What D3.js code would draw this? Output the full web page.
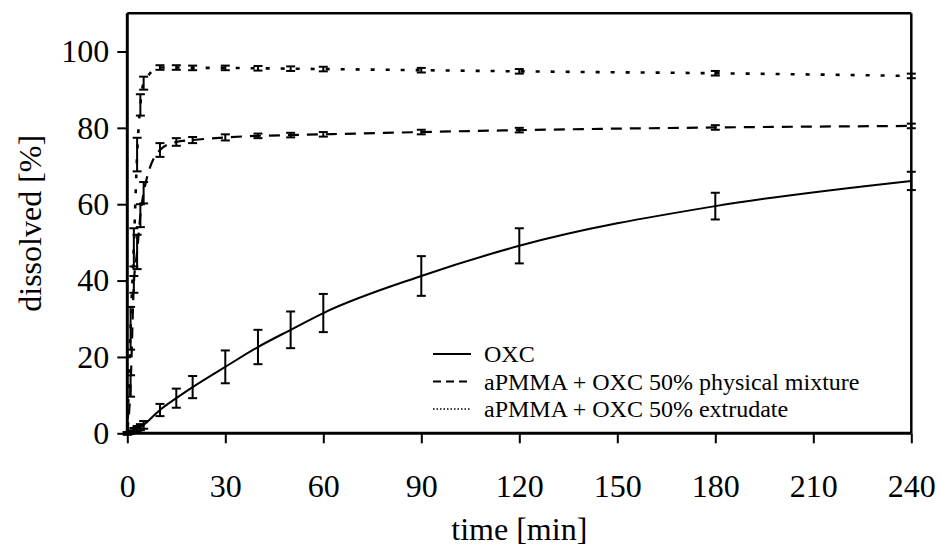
<!DOCTYPE html>
<html>
<head>
<meta charset="utf-8">
<script src="https://cdn.jsdelivr.net/npm/d3@7"></script>
<style>
  html, body { margin: 0; padding: 0; background: #fff; }
  svg { display: block; }
  text { font-family: "Liberation Serif", "Times New Roman", serif; fill: #000; }
</style>
</head>
<body>
<svg id="chart" width="939" height="548"></svg>
<script>
// ---- data ----
const times = [0, 1, 2, 3, 4, 5, 10, 15, 20, 30, 40, 50, 60, 90, 120, 180, 240];
const oxc    = [0, 0.3, 0.8, 1.2, 1.6, 2.2, 6.1, 9.2, 12.1, 17.4, 22.6, 27.1, 31.5, 41.2, 49.1, 59.5, 66.1];
const oxcErr = [0.3, 0.5, 0.6, 0.7, 0.8, 1.0, 1.6, 2.5, 2.9, 4.3, 4.5, 4.8, 5.0, 5.2, 4.6, 3.5, 2.4];
const mix    = [0, 12.4, 39, 47.5, 57, 63, 74.2, 76.3, 76.8, 77.5, 77.9, 78.1, 78.3, 78.9, 79.4, 80.1, 80.5];
const mixErr = [0.3, 2.8, 2.2, 4.5, 3.0, 2.8, 1.8, 1.0, 0.8, 0.8, 0.6, 0.6, 0.6, 0.6, 0.6, 0.6, 0.6];
const ext    = [0, 27.5, 48.7, 73, 86, 91.7, 95.8, 95.8, 95.7, 95.7, 95.6, 95.5, 95.4, 95.1, 94.8, 94.3, 93.6];
const extErr = [0.3, 5.6, 5.0, 4.4, 2.8, 1.7, 0.6, 0.6, 0.6, 0.6, 0.6, 0.6, 0.6, 0.6, 0.6, 0.6, 0.6];
const xTicks = [0, 30, 60, 90, 120, 150, 180, 210, 240];
const yTicks = [0, 20, 40, 60, 80, 100];
const seriesNames = ["OXC", "aPMMA + OXC 50% physical mixture", "aPMMA + OXC 50% extrudate"];
const xTitle = "time [min]";
const yTitle = "dissolved [%]";

// ---- layout ----
const W = 939, H = 548;
const m = { left: 127.3, right: 27.7, top: 13.3, bottom: 114.7 };
const iw = W - m.left - m.right, ih = H - m.top - m.bottom;

const svg = d3.select("#chart");
svg.append("rect").attr("width", W).attr("height", H).attr("fill", "#fff");
const g = svg.append("g").attr("transform", `translate(${m.left},${m.top})`);

const x = d3.scaleLinear().domain([0, 240]).range([0, iw]);
const y = d3.scaleLinear().domain([0, 110]).range([ih, 0]);

// frame (top & right)
g.append("line").attr("x1", 0).attr("x2", iw).attr("y1", 0).attr("y2", 0)
  .attr("stroke", "#000").attr("stroke-width", 2.5);
g.append("line").attr("x1", iw).attr("x2", iw).attr("y1", 0).attr("y2", ih)
  .attr("stroke", "#000").attr("stroke-width", 2.5);

// axes
const xAxis = g.append("g").attr("transform", `translate(0,${ih})`)
  .call(d3.axisBottom(x).tickValues(xTicks).tickSize(10).tickPadding(31).tickFormat(d3.format("d")));
const yAxis = g.append("g")
  .call(d3.axisLeft(y).tickValues(yTicks).tickSize(10).tickPadding(8).tickFormat(d3.format("d")));
[xAxis, yAxis].forEach(a => {
  a.select(".domain").attr("stroke", "#000").attr("stroke-width", 3);
  a.selectAll(".tick line").attr("stroke", "#000").attr("stroke-width", 2);
  a.selectAll(".tick text").attr("font-size", 32).attr("font-family", "Liberation Serif, serif").attr("fill", "#000");
});
yAxis.select(".domain").attr("d", `M0,${ih}V0`);
xAxis.select(".domain").attr("d", `M0,0H${iw}`);

// titles
svg.append("text").attr("x", m.left + iw / 2).attr("y", 540)
  .attr("text-anchor", "middle").attr("font-size", 32).text(xTitle);
svg.append("text").attr("transform", `translate(41,${m.top + ih / 2}) rotate(-90)`)
  .attr("text-anchor", "middle").attr("font-size", 32).text(yTitle);

// series
const series = [
  { vals: oxc, err: oxcErr, dash: null, w: 2 },
  { vals: mix, err: mixErr, dash: "11,8", w: 2.2 },
  { vals: ext, err: extErr, dash: "4,11", w: 2.6 }
];
const line = d3.line().x(d => x(d[0])).y(d => y(d[1])).curve(d3.curveMonotoneX);

series.forEach(s => {
  const pts = times.map((t, i) => [t, s.vals[i], s.err[i]]);
  g.append("path").datum(pts).attr("d", line).attr("fill", "none")
    .attr("stroke", "#000").attr("stroke-width", s.w)
    .attr("stroke-dasharray", s.dash);
  const eb = g.append("g");
  pts.forEach(p => {
    const cx = x(p[0]), y1 = y(p[1] + p[2]), y2 = y(p[1] - p[2]);
    eb.append("line").attr("x1", cx).attr("x2", cx).attr("y1", y1).attr("y2", y2)
      .attr("stroke", "#000").attr("stroke-width", 2);
    [y1, y2].forEach(yy => eb.append("line").attr("x1", cx - 4.5).attr("x2", cx + 4.5)
      .attr("y1", yy).attr("y2", yy).attr("stroke", "#000").attr("stroke-width", 2));
  });
});

// legend
const legend = svg.append("g").attr("transform", "translate(433,362)");
seriesNames.forEach((name, i) => {
  const yy = i * 27.5;
  legend.append("line").attr("x1", 0).attr("x2", 38).attr("y1", yy - 8).attr("y2", yy - 8)
    .attr("stroke", "#000").attr("stroke-width", i === 2 ? 1.6 : 2)
    .attr("stroke-dasharray", i === 0 ? null : (i === 1 ? "8,5" : "1.5,2"));
  legend.append("text").attr("x", 51).attr("y", yy).attr("font-size", 24).text(name);
});
</script>
</body>
</html>
